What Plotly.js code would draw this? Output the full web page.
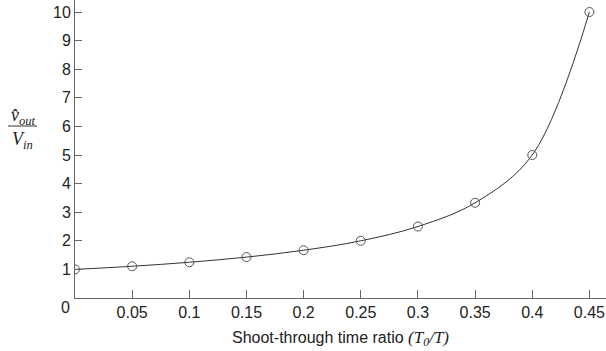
<!DOCTYPE html>
<html>
<head>
<meta charset="utf-8">
<script src="https://cdn.plot.ly/plotly-3.0.1.min.js"></script>
<style>html,body{margin:0;padding:0;background:#fff;}#chart{width:606px;height:351px;}</style>
</head>
<body>
<div id="chart"></div>
<script>
const ratio = [0, 0.05, 0.1, 0.15, 0.2, 0.25, 0.3, 0.35, 0.4, 0.45];
const gain = [1, 1.11, 1.25, 1.43, 1.67, 2.0, 2.5, 3.33, 5.0, 10.0];
const xTicks = [0.05, 0.1, 0.15, 0.2, 0.25, 0.3, 0.35, 0.4, 0.45];
const xTickText = ['0.05', '0.1', '0.15', '0.2', '0.25', '0.3', '0.35', '0.4', '0.45'];
const yTicks = [1, 2, 3, 4, 5, 6, 7, 8, 9, 10];
const yTickText = ['1', '2', '3', '4', '5', '6', '7', '8', '9', '10'];

const sans = 'Liberation Sans, Arial, sans-serif';
const serif = 'Liberation Serif, Times New Roman, serif';

const traces = [
  {x: ratio, y: gain, mode: 'lines', line: {color: '#333', width: 1, shape: 'spline', smoothing: 1}, hoverinfo: 'skip', showlegend: false},
  {x: ratio, y: gain, mode: 'markers', marker: {symbol: 'circle-open', size: 9, color: '#555', line: {width: 1, color: '#555'}}, showlegend: false}
];

const layout = {
  width: 606, height: 351,
  margin: {l: 75, r: 0, t: 0, b: 53},
  paper_bgcolor: '#fff', plot_bgcolor: '#fff',
  font: {family: sans, size: 16, color: '#222'},
  xaxis: {
    range: [0, 0.4645], tickvals: xTicks, ticktext: xTickText,
    ticks: 'inside', ticklen: 8, tickcolor: '#666', tickwidth: 1,
    showline: true, linecolor: '#666', linewidth: 1,
    showgrid: false, zeroline: false, fixedrange: true,
    tickfont: {family: sans, size: 16, color: '#222'},
    title: {text: 'Shoot-through time ratio <span style="font-family:Liberation Serif;font-style:italic;font-size:17px">(T<sub>0</sub>/T)</span>', font: {family: sans, size: 16, color: '#222'}, standoff: 11}
  },
  yaxis: {
    range: [0, 10.42], tickvals: yTicks, ticktext: yTickText,
    ticks: 'inside', ticklen: 7, tickcolor: '#666', tickwidth: 1,
    showline: true, linecolor: '#666', linewidth: 1,
    showgrid: false, zeroline: false, fixedrange: true,
    tickfont: {family: sans, size: 16, color: '#222'}
  },
  annotations: [
    {text: '0', xref: 'paper', yref: 'paper', x: -3/531, y: -9/298, xanchor: 'right', yanchor: 'middle', showarrow: false, font: {family: sans, size: 16, color: '#222'}},
    {text: '<i>v̂<sub>out</sub></i>', xref: 'paper', yref: 'paper', x: -52/531, y: (298-116)/298, xanchor: 'center', yanchor: 'middle', showarrow: false, font: {family: serif, size: 18, color: '#222'}},
    {text: '<i>V<sub>in</sub></i>', xref: 'paper', yref: 'paper', x: -53/531, y: (298-140)/298, xanchor: 'center', yanchor: 'middle', showarrow: false, font: {family: serif, size: 18, color: '#222'}}
  ],
  shapes: [
    {type: 'line', xref: 'paper', yref: 'paper', x0: -67/531, x1: -38/531, y0: (298-126)/298, y1: (298-126)/298, line: {color: '#333', width: 1}}
  ]
};

Plotly.newPlot('chart', traces, layout, {displayModeBar: false, staticPlot: true});
</script>
</body>
</html>
